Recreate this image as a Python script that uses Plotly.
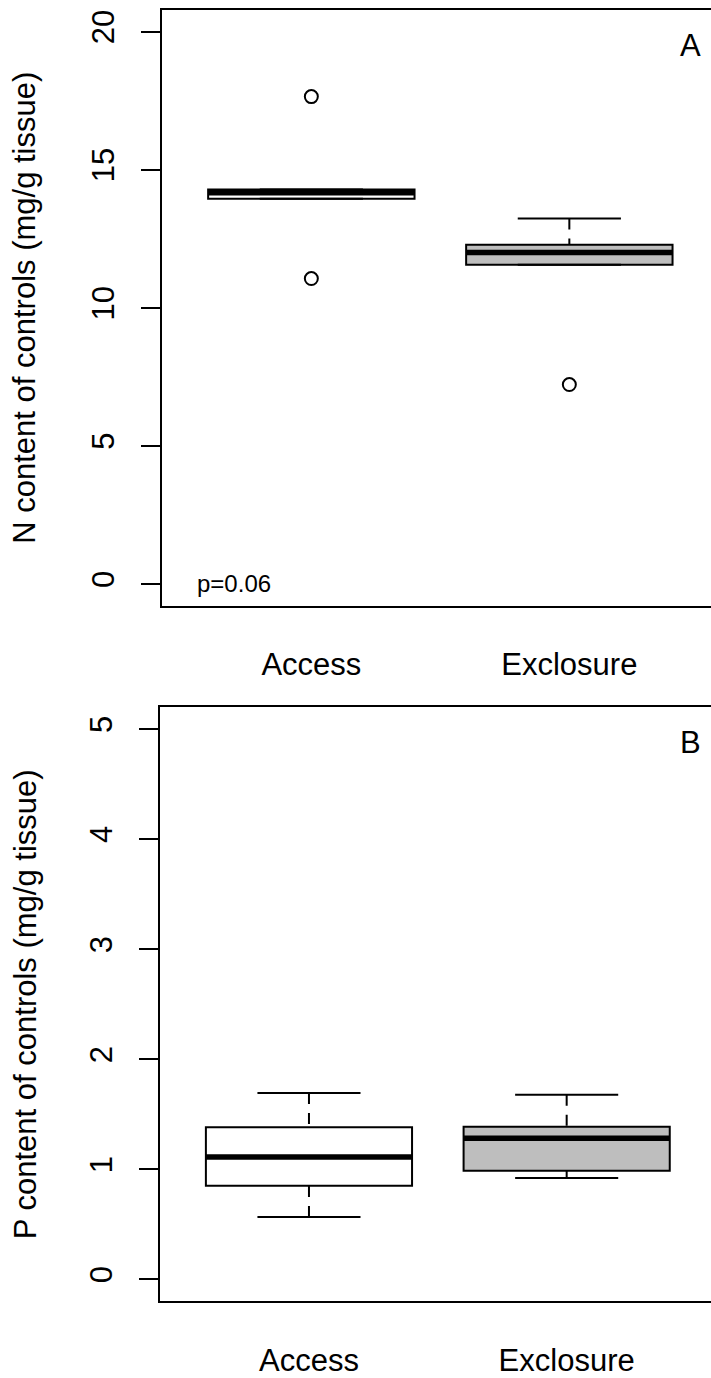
import plotly.graph_objects as go

# ---------------- data ----------------
categories = ["Access", "Exclosure"]
positions = [1, 2]
fill_colors = ["white", "#BEBEBE"]

# Panel A: N content of controls (mg/g tissue)
n_q1 = [13.95, 11.56]
n_median = [14.17, 12.00]
n_q3 = [14.28, 12.28]
n_lower = [13.95, 11.56]
n_upper = [14.28, 13.23]
n_outlier_group = [0, 0, 1]
n_outlier_vals = [17.65, 11.06, 7.22]
n_ticks = [0, 5, 10, 15, 20]

# Panel B: P content of controls (mg/g tissue)
p_q1 = [0.850, 0.988]
p_median = [1.112, 1.282]
p_q3 = [1.383, 1.387]
p_lower = [0.567, 0.920]
p_upper = [1.693, 1.678]
p_ticks = [0, 1, 2, 3, 4, 5]

FONT = "Liberation Sans, Arial, Helvetica, sans-serif"
FS = 31
W, H = 711, 1378

fig = go.Figure()


def add_panel(xa, ya, q1, med, q3, lo, hi, out_g=None, out_v=None):
    for i, pos in enumerate(positions):
        fig.add_trace(go.Box(
            x=[pos], q1=[q1[i]], median=[med[i]], q3=[q3[i]],
            lowerfence=[q1[i]], upperfence=[q3[i]],
            width=0.8, whiskerwidth=0, fillcolor=fill_colors[i],
            line=dict(color="black", width=2), boxpoints=False,
            xaxis=xa, yaxis=ya, showlegend=False, hoverinfo="skip"))
        # thick median
        fig.add_trace(go.Scatter(
            x=[pos - 0.4, pos + 0.4], y=[med[i], med[i]], mode="lines",
            line=dict(color="black", width=5.5), xaxis=xa, yaxis=ya,
            showlegend=False, hoverinfo="skip"))
        # whiskers (dashed) and staples
        for end, edge in ((hi[i], q3[i]), (lo[i], q1[i])):
            fig.add_trace(go.Scatter(
                x=[pos, pos], y=[end, edge], mode="lines",
                line=dict(color="black", width=2, dash="11px,9px"),
                xaxis=xa, yaxis=ya, showlegend=False, hoverinfo="skip"))
            fig.add_trace(go.Scatter(
                x=[pos - 0.2, pos + 0.2], y=[end, end], mode="lines",
                line=dict(color="black", width=2),
                xaxis=xa, yaxis=ya, showlegend=False, hoverinfo="skip"))
    if out_v:
        fig.add_trace(go.Scatter(
            x=[positions[g] for g in out_g], y=out_v, mode="markers",
            marker=dict(symbol="circle-open", size=13, color="black",
                        line=dict(width=2, color="black")),
            xaxis=xa, yaxis=ya, showlegend=False, hoverinfo="skip"))


add_panel("x", "y", n_q1, n_median, n_q3, n_lower, n_upper,
          n_outlier_group, n_outlier_vals)
add_panel("x2", "y2", p_q1, p_median, p_q3, p_lower, p_upper)

# geometry (pixels)
a_left, a_top, a_bot, a_unit = 161.7, 9.6, 606.0, 258.0
b_left, b_top, b_bot, b_unit = 159.5, 707.0, 1301.4, 257.7

xcommon = dict(showgrid=False, zeroline=False, showline=True, mirror=True,
               linecolor="black", linewidth=2, ticks="",
               tickvals=positions, ticktext=categories,
               tickfont=dict(family=FONT, size=FS, color="black"),
               ticklabelstandoff=30, fixedrange=True, automargin=False)
ycommon = dict(showgrid=False, zeroline=False, showline=True, mirror=False,
               linecolor="black", linewidth=2, ticks="outside", ticklen=19,
               tickwidth=2, tickcolor="black", tickangle=-90,
               tickfont=dict(family=FONT, size=FS, color="black"),
               ticklabelstandoff=14, fixedrange=True, automargin=False)

fig.update_layout(
    width=W, height=H, paper_bgcolor="white", plot_bgcolor="white",
    margin=dict(l=0, r=0, t=0, b=0, pad=0), autosize=False,
    hovermode=False,
    xaxis=dict(domain=[a_left / W, 1], anchor="y",
               range=[0.42, 0.42 + (W - a_left) / a_unit], **xcommon),
    yaxis=dict(domain=[1 - a_bot / H, 1 - a_top / H], anchor="x",
               range=[-0.8, 20.8], tickvals=n_ticks,
               ticktext=[str(t) for t in n_ticks], **ycommon),
    xaxis2=dict(domain=[b_left / W, 1], anchor="y2",
                range=[0.42, 0.42 + (W - b_left) / b_unit], **xcommon),
    yaxis2=dict(domain=[1 - b_bot / H, 1 - b_top / H], anchor="x2",
                range=[-0.2, 5.2], tickvals=p_ticks,
                ticktext=[str(t) for t in p_ticks], **ycommon),
    annotations=[
        dict(text="N content of controls (mg/g tissue)", textangle=-90,
             xref="paper", yref="paper", x=25 / W,
             y=1 - (a_top + a_bot) / 2 / H, xanchor="center", yanchor="middle",
             showarrow=False, font=dict(family=FONT, size=FS, color="black")),
        dict(text="P content of controls (mg/g tissue)", textangle=-90,
             xref="paper", yref="paper", x=25 / W,
             y=1 - (b_top + b_bot) / 2 / H, xanchor="center", yanchor="middle",
             showarrow=False, font=dict(family=FONT, size=FS, color="black")),
        dict(text="A", xref="x", yref="y", x=2.47, y=19.5, showarrow=False,
             xanchor="center", yanchor="middle",
             font=dict(family=FONT, size=FS, color="black")),
        dict(text="B", xref="x2", yref="y2", x=2.48, y=4.875, showarrow=False,
             xanchor="center", yanchor="middle",
             font=dict(family=FONT, size=FS, color="black")),
        dict(text="p=0.06", xref="x", yref="y", x=0.70, y=0.0, showarrow=False,
             xanchor="center", yanchor="middle",
             font=dict(family=FONT, size=24, color="black")),
    ],
)

fig.write_html(
    "out.html",
    config={"displayModeBar": False, "staticPlot": True},
    post_script="document.body.style.margin='0';document.body.style.padding='0';"
                "document.body.style.overflow='hidden';",
)
